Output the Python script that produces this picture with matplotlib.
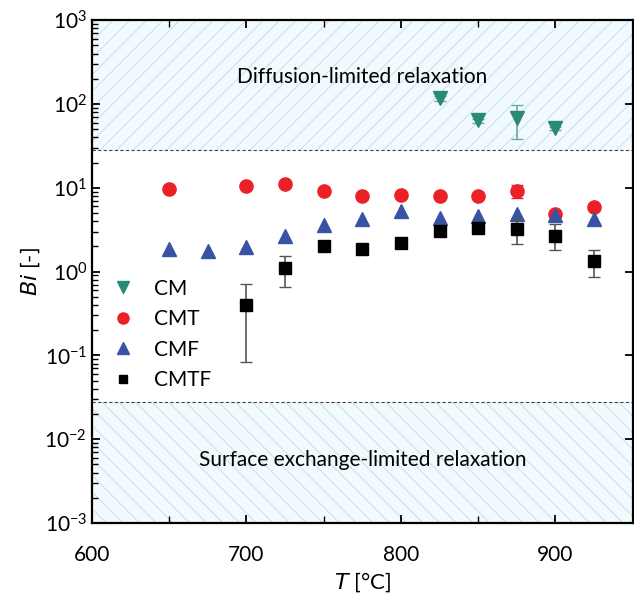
import numpy as np
import matplotlib as mpl
from matplotlib import pyplot as plt
from matplotlib.lines import Line2D

plt.rcParams['font.family'] = ['Lato', 'DejaVu Sans']
plt.rcParams['hatch.linewidth'] = 0.6
plt.rcParams['hatch.color'] = '#b5e0ef'

# data
t_cm = [825, 850, 875, 900]
bi_cm = [118, 64, 68, 51]
lo_cm = [110, 60, 38, 49]
hi_cm = [125, 67, 97, 53]

t_cmt = [650, 700, 725, 750, 775, 800, 825, 850, 875, 900, 925]
bi_cmt = [9.6, 10.4, 11.0, 9.2, 8.0, 8.3, 8.0, 8.0, 9.2, 4.8, 5.9]
lo_cmt = [9.2, 10.0, 10.6, 8.9, 7.7, 8.0, 7.7, 7.7, 7.6, 4.5, 5.6]
hi_cmt = [10.0, 10.8, 11.4, 9.5, 8.3, 8.6, 8.3, 8.3, 10.7, 5.1, 6.2]

t_cmf = [650, 675, 700, 725, 750, 775, 800, 825, 850, 875, 900, 925]
bi_cmf = [1.84, 1.75, 1.97, 2.64, 3.58, 4.3, 5.3, 4.4, 4.6, 4.9, 4.7, 4.2]

t_cmtf = [700, 725, 750, 775, 800, 825, 850, 875, 900, 925]
bi_cmtf = [0.40, 1.11, 2.0, 1.84, 2.2, 3.04, 3.27, 3.2, 2.67, 1.34]
lo_cmtf = [0.084, 0.66, 1.9, 1.75, 2.1, 2.9, 3.1, 2.16, 1.8, 0.87]
hi_cmtf = [0.72, 1.53, 2.1, 1.93, 2.3, 3.2, 3.45, 4.3, 3.65, 1.8]

bi_upper = 28
bi_lower = 0.028


def yerr(v, lo, hi):
    v = np.array(v)
    return [v - np.array(lo), np.array(hi) - v]


fig = plt.figure(figsize=(6.34, 5.93), dpi=100)
ax = fig.add_axes([0.145, 0.118, 0.853, 0.848])

ax.set_yscale('log')
ax.set_xlim(600, 950)
ax.set_ylim(1e-3, 1e3)

# shaded regions
ax.axhspan(bi_upper, 1e3, facecolor='#f3fafd', hatch='//', edgecolor='#b5e0ef', linewidth=0, zorder=0)
ax.axhspan(1e-3, bi_lower, facecolor='#f3fafd', hatch='\\\\', edgecolor='#b5e0ef', linewidth=0, zorder=0)
ax.axhline(bi_upper, color='#444444', ls=(0, (3, 2)), lw=0.8, zorder=1)
ax.axhline(bi_lower, color='#444444', ls=(0, (3, 2)), lw=0.8, zorder=1)

ax.errorbar(t_cm, bi_cm, yerr=yerr(bi_cm, lo_cm, hi_cm), fmt='v', color='#2b8a74',
            ms=10, ecolor='#6aab9c', elinewidth=1.2, capsize=4, zorder=3)
ax.errorbar(t_cmt, bi_cmt, yerr=yerr(bi_cmt, lo_cmt, hi_cmt), fmt='o', color='#ec2027',
            ms=9.5, ecolor='#ec2027', elinewidth=1.2, capsize=4, zorder=3)
ax.plot(t_cmf, bi_cmf, '^', color='#3953a4', ms=10.5, zorder=4)
ax.errorbar(t_cmtf, bi_cmtf, yerr=yerr(bi_cmtf, lo_cmtf, hi_cmtf), fmt='s', color='black',
            ms=8, ecolor='#555555', elinewidth=1.2, capsize=4, zorder=5)

ax.text(775, 209, 'Diffusion-limited relaxation', ha='center', va='center', fontsize=15)
ax.text(775, 0.0056, 'Surface exchange-limited relaxation', ha='center', va='center', fontsize=15)

handles = [
    Line2D([], [], ls='', marker='v', color='#2b8a74', ms=8),
    Line2D([], [], ls='', marker='o', color='#ec2027', ms=8),
    Line2D([], [], ls='', marker='^', color='#3953a4', ms=8),
    Line2D([], [], ls='', marker='s', color='black', ms=6),
]
ax.legend(handles, ['CM', 'CMT', 'CMF', 'CMTF'], loc='upper left', bbox_to_anchor=(0.0, 0.523),
          frameon=False, fontsize=15, handlelength=1.2, handletextpad=0.9, labelspacing=0.5)

# ticks
ax.set_xticks([600, 700, 800, 900])
ax.set_xticks([650, 750, 850, 950], minor=True)
ax.set_yticks([1e-3, 1e-2, 1e-1, 1e0, 1e1, 1e2, 1e3])
ax.set_yticklabels([r'$\mathregular{10^{-3}}$', r'$\mathregular{10^{-2}}$', r'$\mathregular{10^{-1}}$',
                    r'$\mathregular{10^{0}}$', r'$\mathregular{10^{1}}$', r'$\mathregular{10^{2}}$',
                    r'$\mathregular{10^{3}}$'])
ax.yaxis.set_minor_locator(mpl.ticker.LogLocator(base=10, subs=np.arange(2, 10)))
ax.yaxis.set_minor_formatter(mpl.ticker.NullFormatter())
ax.tick_params(axis='both', which='major', direction='in', length=6, width=1.3, labelsize=15,
               top=True, right=True)
ax.tick_params(axis='both', which='minor', direction='in', length=4, width=1.0, top=True, right=False)
ax.tick_params(axis='x', which='minor', length=5)
ax.tick_params(axis='x', which='major', pad=16)
for s in ax.spines.values():
    s.set_linewidth(1.6)

ax.set_xlabel(r'$\mathit{T}$ [°C]', fontsize=16, labelpad=4)
ax.set_ylabel(r'$\mathit{Bi}$ [-]', fontsize=16, labelpad=2)

fig.savefig('out.png', dpi=100)
